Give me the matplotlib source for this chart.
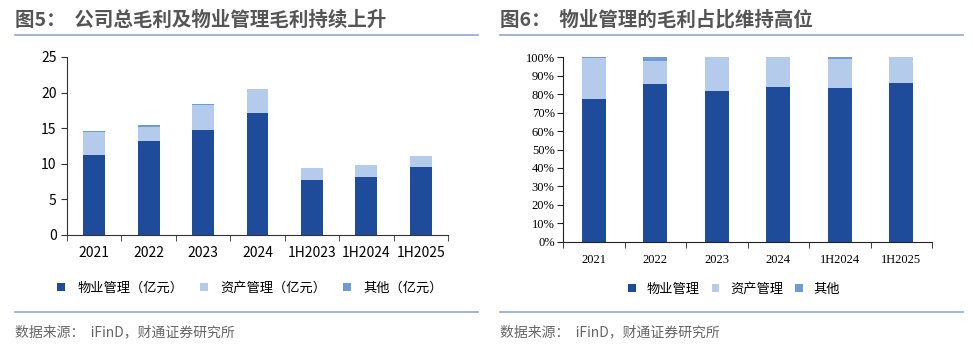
import matplotlib
matplotlib.use("Agg")
import matplotlib.pyplot as plt
from matplotlib.lines import Line2D
from matplotlib.patches import Patch
from matplotlib.ticker import FixedLocator, PercentFormatter
import numpy as np

plt.rcParams['font.family'] = ['Noto Sans CJK SC', 'DejaVu Sans']

# ---- Data: left chart (亿元) ----
left_cats = ["2021", "2022", "2023", "2024", "1H2023", "1H2024", "1H2025"]
left_property = [11.2, 13.2, 14.7, 17.2, 7.7, 8.2, 9.5]
left_asset = [3.3, 1.9, 3.6, 3.3, 1.7, 1.6, 1.6]
left_other = [0.07, 0.28, 0.03, 0.03, 0.02, 0.07, 0.02]
left_yticks = [0, 5, 10, 15, 20, 25]

# ---- Data: right chart (share, %) ----
right_cats = ["2021", "2022", "2023", "2024", "1H2024", "1H2025"]
right_property = [77.4, 85.7, 81.9, 83.9, 83.5, 86.3]
right_asset = [22.1, 12.5, 18.0, 16.0, 15.8, 13.6]
right_other = [0.5, 1.8, 0.1, 0.1, 0.7, 0.1]
right_yticks = [0, 10, 20, 30, 40, 50, 60, 70, 80, 90, 100]

legend_left = ["物业管理（亿元）", "资产管理（亿元）", "其他（亿元）"]
legend_right = ["物业管理", "资产管理", "其他"]

C_DARK = "#1F4C9A"
C_LIGHT = "#B4CBEC"
C_OTHER = "#6E9BD2"
TITLE_C = "#555555"
LINE_C = "#8FA8D2"

W, H = 972, 350
fig = plt.figure(figsize=(W / 100, H / 100), dpi=100)

def fx(px):
    return px / W

def fy(py):
    return 1 - py / H

# Titles and rules
fig.text(fx(15), fy(20), "图5：  公司总毛利及物业管理毛利持续上升", fontsize=14,
         fontweight="bold", color=TITLE_C, va="center", ha="left")
fig.text(fx(500), fy(20), "图6：  物业管理的毛利占比维持高位", fontsize=14,
         fontweight="bold", color=TITLE_C, va="center", ha="left")
for x0, x1 in [(15, 478), (500, 963)]:
    fig.add_artist(Line2D([fx(x0), fx(x1)], [fy(35), fy(35)], color=LINE_C, lw=1.2))
    fig.add_artist(Line2D([fx(x0), fx(x1)], [fy(312), fy(312)], color=LINE_C, lw=1.2))
fig.text(fx(15), fy(332), "数据来源：  iFinD，财通证券研究所", fontsize=10,
         color="#666666", va="center", ha="left")
fig.text(fx(500), fy(332), "数据来源：  iFinD，财通证券研究所", fontsize=10,
         color="#666666", va="center", ha="left")

# ---- Left chart ----
axL = fig.add_axes([fx(67), fy(235), fx(448) - fx(67), fy(57) - fy(235)])
x = np.arange(len(left_cats))
bw = 0.4
p = np.array(left_property)
a = np.array(left_asset)
o = np.array(left_other)
axL.bar(x, p, bw, color=C_DARK)
axL.bar(x, a, bw, bottom=p, color=C_LIGHT)
axL.bar(x, o, bw, bottom=p + a, color=C_OTHER)
axL.set_xlim(-0.5, len(left_cats) - 0.5)
axL.set_ylim(0, 25)
axL.set_yticks(left_yticks)
axL.set_xticks(x)
axL.set_xticklabels(left_cats, fontsize=10)
axL.tick_params(axis="x", which="major", length=0, pad=8)
axL.xaxis.set_minor_locator(FixedLocator(np.arange(-0.5, len(left_cats), 1.0)))
axL.tick_params(axis="x", which="minor", length=4, direction="out", color="#333333")
axL.tick_params(axis="y", labelsize=10, length=4, direction="out", color="#333333")
for s in ["top", "right"]:
    axL.spines[s].set_visible(False)
for s in ["left", "bottom"]:
    axL.spines[s].set_color("#333333")

hL = [Patch(facecolor=c) for c in (C_DARK, C_LIGHT, C_OTHER)]
fig.legend(hL, legend_left, loc="center", bbox_to_anchor=(fx(250), fy(288)), ncol=3,
           frameon=False, fontsize=9.5, handlelength=0.6, handleheight=0.6,
           columnspacing=1.3, handletextpad=0.9)

# ---- Right chart ----
axR = fig.add_axes([fx(563), fy(241.7), fx(932) - fx(563), fy(57.3) - fy(241.7)])
xr = np.arange(len(right_cats))
bw2 = 0.39
rp = np.array(right_property)
ra = np.array(right_asset)
ro = np.array(right_other)
axR.bar(xr, rp, bw2, color=C_DARK)
axR.bar(xr, ra, bw2, bottom=rp, color=C_LIGHT)
axR.bar(xr, ro, bw2, bottom=rp + ra, color=C_OTHER)
axR.set_xlim(-0.5, len(right_cats) - 0.5)
axR.set_ylim(0, 100)
axR.set_yticks(right_yticks)
axR.yaxis.set_major_formatter(PercentFormatter(decimals=0))
axR.set_xticks(xr)
axR.set_xticklabels(right_cats, fontsize=9, family="Liberation Serif")
for lbl in axR.get_yticklabels():
    lbl.set_family("Liberation Serif")
    lbl.set_fontsize(9)
axR.tick_params(axis="x", which="major", length=0, pad=9)
axR.xaxis.set_minor_locator(FixedLocator(np.arange(-0.5, len(right_cats), 1.0)))
axR.tick_params(axis="x", which="minor", length=4, direction="out", color="#222222")
axR.tick_params(axis="y", length=4, direction="out", color="#222222", pad=2)
for s in ["top", "right"]:
    axR.spines[s].set_visible(False)
for s in ["left", "bottom"]:
    axR.spines[s].set_color("#222222")

hR = [Patch(facecolor=c) for c in (C_DARK, C_LIGHT, C_OTHER)]
fig.legend(hR, legend_right, loc="center", bbox_to_anchor=(fx(734), fy(289)), ncol=3,
           frameon=False, fontsize=9.5, handlelength=0.6, handleheight=0.6,
           columnspacing=0.9, handletextpad=0.8)

fig.savefig("out.png", dpi=100)
